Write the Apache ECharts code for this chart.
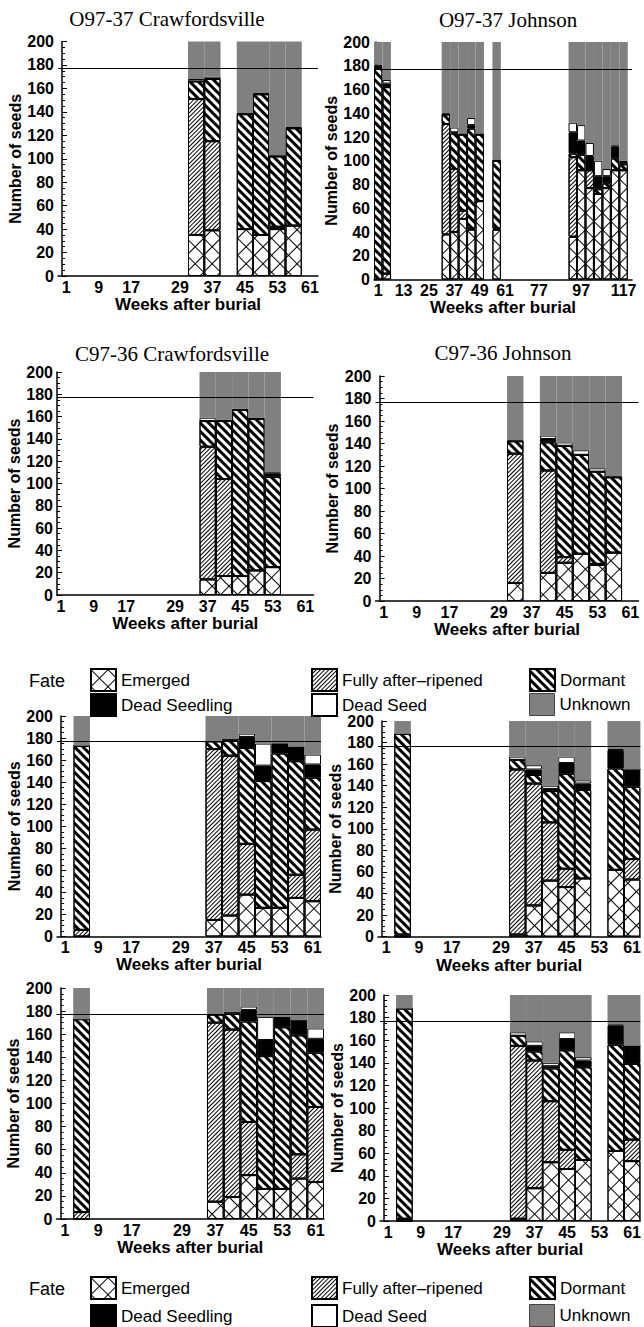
<!DOCTYPE html>
<html>
<head>
<meta charset="utf-8">
<script src="https://cdn.jsdelivr.net/npm/echarts@6/dist/echarts.min.js"></script>
<style>
  html, body { margin: 0; padding: 0; background: #fff; }
  #chart { width: 644px; height: 1327px; }
</style>
</head>
<body>
<div id="chart"></div>
<script>
// seed fates, stacked from the bottom of each bar
const fates = ['Emerged', 'Fully after–ripened', 'Dormant', 'Dead Seedling', 'Dead Seed', 'Unknown'];
const refLine = 177;

// O97-37 Crawfordsville
const ocWeeks = [33, 37, 45, 49, 53, 57];
const ocEmerged = [35, 39, 40, 35, 40, 43];
const ocRipened = [116, 76, 0, 0, 2, 0];
const ocDormant = [15, 53, 98, 120, 60, 83];
const ocSeedling = [0, 0, 0, 0, 0, 0];
const ocSeed = [2, 2, 1, 1, 1, 1];
const ocUnknown = [32, 30, 61, 44, 97, 73];

// O97-37 Johnson
const ojWeeks = [1, 5, 33, 37, 41, 45, 49, 57, 93, 97, 101, 105, 109, 113, 117];
const ojEmerged = [0, 5, 38, 40, 51, 42, 66, 42, 36, 92, 77, 72, 77, 92, 92];
const ojRipened = [0, 0, 93, 53, 7, 1, 0, 1, 67, 0, 15, 0, 0, 0, 0];
const ojDormant = [178, 157, 8, 30, 64, 84, 56, 57, 3, 13, 0, 4, 4, 10, 5];
const ojSeedling = [2, 3, 0, 1, 0, 3, 0, 0, 18, 12, 12, 11, 6, 10, 2];
const ojSeed = [1, 3, 1, 4, 1, 6, 1, 1, 8, 13, 11, 13, 6, 1, 1];
const ojUnknown = [19, 32, 60, 72, 77, 64, 77, 99, 68, 70, 85, 100, 107, 87, 100];

// C97-36 Crawfordsville
const ccWeeks = [37, 41, 45, 49, 53];
const ccEmerged = [14, 17, 17, 22, 25];
const ccRipened = [119, 87, 0, 0, 0];
const ccDormant = [23, 52, 149, 136, 81];
const ccSeedling = [0, 0, 0, 0, 3];
const ccSeed = [3, 1, 1, 1, 1];
const ccUnknown = [41, 43, 33, 41, 90];

// C97-36 Johnson
const cjWeeks = [33, 41, 45, 49, 53, 57];
const cjEmerged = [16, 25, 34, 42, 32, 43];
const cjRipened = [115, 91, 5, 0, 1, 0];
const cjDormant = [11, 25, 99, 88, 82, 67];
const cjSeedling = [0, 3, 0, 0, 0, 0];
const cjSeed = [1, 3, 3, 4, 3, 1];
const cjUnknown = [57, 53, 59, 66, 82, 89];

// untitled panels, left column (rows 3 and 4)
const ulWeeks = [5, 37, 41, 45, 49, 53, 57, 61];
const ulEmerged = [0, 15, 19, 38, 26, 26, 35, 32];
const ulRipened = [6, 155, 145, 46, 0, 0, 21, 65];
const ulDormant = [167, 7, 14, 87, 115, 140, 103, 47];
const ulSeedling = [0, 0, 1, 10, 14, 9, 13, 12];
const ulSeed = [0, 0, 0, 3, 20, 0, 0, 9];
const ulUnknown = [27, 23, 21, 16, 25, 25, 28, 35];

// untitled panels, right column (rows 3 and 4)
const urWeeks = [5, 33, 37, 41, 45, 49, 57, 61];
const urEmerged = [0, 2, 29, 52, 46, 54, 62, 53];
const urRipened = [2, 153, 113, 54, 17, 0, 0, 19];
const urDormant = [186, 9, 8, 29, 88, 82, 94, 67];
const urSeedling = [0, 0, 5, 2, 10, 6, 17, 16];
const urSeed = [0, 3, 4, 3, 6, 3, 1, 0];
const urUnknown = [12, 33, 41, 60, 33, 55, 26, 45];

// tick labels
const ticks61 = [1, 9, 17, 29, 37, 45, 53, 61];
const ticks117 = [1, 13, 25, 37, 49, 61, 77, 97, 117];

const oc = [ocWeeks, ocEmerged, ocRipened, ocDormant, ocSeedling, ocSeed, ocUnknown];
const oj = [ojWeeks, ojEmerged, ojRipened, ojDormant, ojSeedling, ojSeed, ojUnknown];
const cc = [ccWeeks, ccEmerged, ccRipened, ccDormant, ccSeedling, ccSeed, ccUnknown];
const cj = [cjWeeks, cjEmerged, cjRipened, cjDormant, cjSeedling, cjSeed, cjUnknown];
const ul = [ulWeeks, ulEmerged, ulRipened, ulDormant, ulSeedling, ulSeed, ulUnknown];
const ur = [urWeeks, urEmerged, urRipened, urDormant, urSeedling, urSeed, urUnknown];

const panels = [
  { title: 'O97-37 Crawfordsville', tx: 167, ty: 18.5, left: 58, top: 41.5, width: 260, height: 234.5, min: -1, max: 63, ticks: ticks61, data: oc },
  { title: 'O97-37 Johnson', tx: 508, ty: 20, left: 374, top: 42, width: 258, height: 237.5, min: -1, max: 121, ticks: ticks117, data: oj },
  { title: 'C97-36 Crawfordsville', tx: 172, ty: 354, left: 57, top: 372, width: 256.5, height: 223, min: 0, max: 63, ticks: ticks61, data: cc },
  { title: 'C97-36 Johnson', tx: 503, ty: 352.5, left: 375.5, top: 376, width: 263, height: 225, min: -1, max: 63, ticks: ticks61, data: cj },
  { left: 57, top: 716, width: 264, height: 220.5, min: -1, max: 63, ticks: ticks61, data: ul },
  { left: 378, top: 721, width: 265, height: 215.7, min: -1, max: 63, ticks: ticks61, data: ur },
  { left: 56.5, top: 988, width: 267.5, height: 231, min: -1, max: 63, ticks: ticks61, data: ul },
  { left: 380, top: 995, width: 266.7, height: 226, min: -1, max: 63, ticks: ticks61, data: ur }
];

const sans = '"Liberation Sans", Arial, sans-serif';
const serif = '"Liberation Serif", "Times New Roman", serif';

const fateStyles = [
  // big diagonal cross-hatch: a square line grid turned by 45 degrees
  { color: '#fff', borderColor: '#000', borderWidth: 1,
    decal: { symbol: 'rect', symbolSize: 1, symbolKeepAspect: false, color: '#000',
             dashArrayX: [[1, 0], [1, 11]], dashArrayY: [1, 0, 11, 0], rotation: Math.PI / 4 } },
  // fine ///
  { color: '#fff', borderColor: '#000', borderWidth: 1,
    decal: { symbol: 'rect', symbolSize: 1, symbolKeepAspect: false, color: '#000',
             dashArrayX: [1, 0], dashArrayY: [1, 2], rotation: -Math.PI / 4 } },
  // bold \\\
  { color: '#fff', borderColor: '#000', borderWidth: 1,
    decal: { symbol: 'rect', symbolSize: 1, symbolKeepAspect: false, color: '#000',
             dashArrayX: [3, 0], dashArrayY: [3, 3], rotation: Math.PI / 4 } },
  { color: '#000', borderColor: '#000', borderWidth: 1 },
  { color: '#fff', borderColor: '#000', borderWidth: 1 },
  { color: '#808080', borderWidth: 0 }
];

const grid = [], xAxis = [], yAxis = [], series = [], graphic = [];

panels.forEach((p, i) => {
  grid.push({ left: p.left, top: p.top, width: p.width, height: p.height });
  xAxis.push({
    type: 'value', gridIndex: i, min: p.min, max: p.max,
    name: 'Weeks after burial', nameLocation: 'middle', nameGap: 17,
    nameTextStyle: { fontFamily: sans, fontSize: 17, fontWeight: 'bold', color: '#000' },
    axisLine: { show: true, onZero: false, lineStyle: { color: '#000', width: 1.5 } },
    axisTick: { show: false },
    splitLine: { show: false },
    axisLabel: { customValues: p.ticks, fontFamily: sans, fontSize: 16, fontWeight: 'bold', color: '#000', margin: 3 }
  });
  yAxis.push({
    type: 'value', gridIndex: i, min: 0, max: 200, interval: 20,
    name: 'Number of seeds', nameLocation: 'middle', nameGap: 35,
    nameTextStyle: { fontFamily: sans, fontSize: 16, fontWeight: 'bold', color: '#000' },
    axisLine: { show: true, lineStyle: { color: '#000', width: 1.5 } },
    axisTick: { show: true, inside: true, length: 5, lineStyle: { color: '#000' } },
    minorTick: { show: true, splitNumber: 4, length: 3, lineStyle: { color: '#000' } },
    splitLine: { show: false },
    axisLabel: { fontFamily: sans, fontSize: 16, fontWeight: 'bold', color: '#000', margin: 4 }
  });
  const weeks = p.data[0];
  const barW = 4 * p.width / (p.max - p.min);
  fates.forEach((name, k) => {
    const s = {
      type: 'bar', name, xAxisIndex: i, yAxisIndex: i, stack: 'p' + i,
      barWidth: barW, itemStyle: fateStyles[k], emphasis: { disabled: true },
      // count first so the stack runs on the count, week second for the x axis
      encode: { x: 1, y: 0 },
      data: weeks.map((w, j) => [p.data[k + 1][j], w])
    };
    if (k === fates.length - 1) {
      s.markLine = {
        silent: true, symbol: 'none', label: { show: false },
        lineStyle: { color: '#000', width: 1, type: 'solid' },
        data: [{ yAxis: refLine }]
      };
    }
    series.push(s);
  });
  if (p.title) {
    graphic.push({
      type: 'text', x: p.tx, y: p.ty,
      style: { text: p.title, fill: '#000', font: '21px ' + serif, align: 'center', verticalAlign: 'middle' }
    });
  }
});

// two legend blocks, 3 columns x 2 rows each
const legendCols = [90, 311, 529];
const legendRows = [[679, 704], [1287, 1315]];
const legend = [];
legendRows.forEach(rows => {
  graphic.push({
    type: 'text', x: 29, y: rows[0] + 2,
    style: { text: 'Fate', fill: '#000', font: '18px ' + sans, verticalAlign: 'middle' }
  });
  fates.forEach((name, k) => {
    const l = {
      data: [name], left: legendCols[k % 3], top: rows[Math.floor(k / 3)] - 11, padding: 0,
      icon: 'rect', itemWidth: 25, itemHeight: 22, selectedMode: false,
      textStyle: { fontFamily: sans, fontSize: 17, color: '#000' }
    };
    if (name === 'Unknown') l.itemStyle = { borderColor: '#444', borderWidth: 1 };
    legend.push(l);
  });
});

const chart = echarts.init(document.getElementById('chart'), null, { renderer: 'svg' });
chart.setOption({
  animation: false,
  backgroundColor: '#fff',
  grid, xAxis, yAxis, series, legend, graphic
});
</script>
</body>
</html>
